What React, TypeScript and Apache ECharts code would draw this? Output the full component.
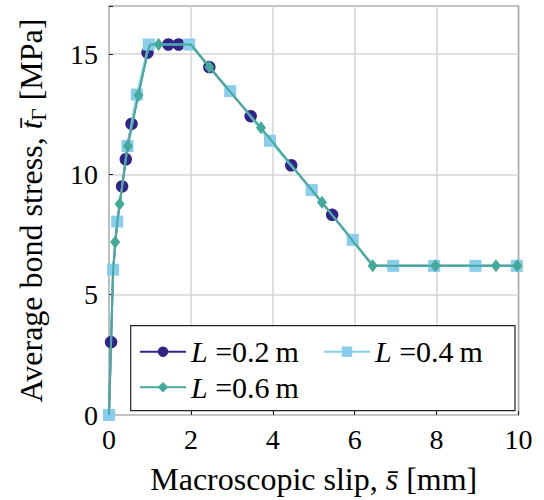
import React, { useEffect, useRef } from "react";
import * as echarts from "echarts";

// Underlying traction-slip curve (kink / shape points, no markers)
const curveX = [0, 0.05, 0.1, 0.2, 0.32, 0.45, 0.7, 0.94, 1.0, 2.0, 6.45, 10];
const curveY = [0, 3.0, 6.0, 8.0, 9.5, 11.2, 13.3, 15.06, 15.4, 15.4, 6.2, 6.2];

// Marker points, L = 0.2 m
const l02X = [0.05, 0.32, 0.41, 0.55, 0.94, 1.45, 1.7, 2.45, 3.46, 4.45, 5.45];
const l02Y = [3.03, 9.5, 10.63, 12.1, 15.06, 15.4, 15.4, 14.46, 12.42, 10.38, 8.32];

// Marker points, L = 0.4 m
const l04X = [0, 0.1, 0.2, 0.45, 0.68, 0.97, 1.96, 2.96, 3.93, 4.95, 5.95, 6.94, 7.94, 8.95, 9.96];
const l04Y = [0, 6.04, 8.04, 11.18, 13.32, 15.4, 15.4, 13.46, 11.4, 9.35, 7.28, 6.2, 6.2, 6.2, 6.2];

// Marker points, L = 0.6 m
const l06X = [0.15, 0.26, 0.46, 0.72, 1.21, 2.45, 3.71, 5.2, 6.44, 7.97, 9.45, 9.97];
const l06Y = [7.19, 8.77, 11.18, 13.29, 15.4, 14.46, 11.94, 8.84, 6.2, 6.2, 6.2, 6.2];

const seriesNames = ["L=0.2", "L=0.4", "L=0.6"];
const legendValues = ["0.2", "0.4", "0.6"];
const colors = ["#332288", "#88CCEE", "#44AA99"];
const symbols = ["circle", "rect", "diamond"];

const xTicks = [0, 10, 2];
const yTicks = [0, 17, 5];

const FONT = "'Liberation Serif', 'Times New Roman', serif";

function buildData(mx: number[], my: number[]) {
  const pts: any[] = mx.map((x, i) => ({ value: [x, my[i]] }));
  curveX.forEach((x, i) => {
    if (!mx.some((m) => Math.abs(m - x) < 0.031)) {
      pts.push({ value: [x, curveY[i]], symbol: "none" });
    }
  });
  pts.sort((a, b) => a.value[0] - b.value[0]);
  return pts;
}

const tickRich = { t: { fontFamily: FONT, fontSize: 28, color: "#000" } };

export default function App() {
  const ref = useRef<HTMLDivElement>(null);
  useEffect(() => {
    if (!ref.current) return;
    const chart = echarts.init(ref.current, undefined, { renderer: "svg" });
    const marks = [
      [l02X, l02Y],
      [l04X, l04Y],
      [l06X, l06Y],
    ];
    const sizes: any[] = [12.5, 12, [10, 13]];
    const series = seriesNames.map((name, i) => ({
      name,
      type: "line",
      data: buildData(marks[i][0], marks[i][1]),
      symbol: symbols[i],
      symbolSize: sizes[i],
      showSymbol: true,
      color: colors[i],
      itemStyle: { color: colors[i], borderWidth: 0 },
      lineStyle: { color: colors[i], width: 2 },
      z: 2 + i * 0.01,
    }));

    const legendPos = [
      { left: 139, top: 336.7 },
      { left: 323, top: 336.7 },
      { left: 139, top: 372.3 },
    ];
    const legends = seriesNames.map((name, i) => ({
      data: [name],
      left: legendPos[i].left,
      top: legendPos[i].top,
      padding: 0,
      itemWidth: 46,
      itemHeight: 13,
      itemGap: 0,
      formatter: () => `{i|L}{n| =${legendValues[i]}\u2009m}`,
      textStyle: {
        fontFamily: FONT,
        fontSize: 30,
        color: "#000",
        rich: {
          i: { fontFamily: FONT, fontStyle: "italic", fontSize: 30, color: "#000" },
          n: { fontFamily: FONT, fontSize: 30, color: "#000" },
        },
      },
      z: 5,
    }));

    chart.setOption({
      animation: false,
      backgroundColor: "#fff",
      grid: {
        left: 109,
        right: 25.5,
        top: 6,
        bottom: 84.5,
        show: true,
        borderColor: "#222",
        borderWidth: 1.2,
      },
      xAxis: {
        type: "value",
        min: xTicks[0],
        max: xTicks[1],
        interval: xTicks[2],
        axisLine: { show: false },
        axisTick: { show: true, inside: true, length: 4, lineStyle: { color: "#222" } },
        splitLine: { show: true, lineStyle: { color: "#d6d6d6", width: 1.5 } },
        axisLabel: {
          fontFamily: FONT,
          fontSize: 28,
          color: "#000",
          margin: 10,
          formatter: (v: number) => `{t|${v}}`,
          rich: tickRich,
        },
        name: "{n|Macroscopic slip, }{i|s\u0304}{n| [mm]}",
        nameLocation: "middle",
        nameGap: 48,
        nameTextStyle: {
          fontFamily: FONT,
          fontSize: 32,
          color: "#000",
          rich: {
            n: { fontFamily: FONT, fontSize: 32, color: "#000" },
            i: { fontFamily: FONT, fontSize: 32, fontStyle: "italic", color: "#000" },
          },
        },
      },
      yAxis: {
        type: "value",
        min: yTicks[0],
        max: yTicks[1],
        interval: yTicks[2],
        axisLine: { show: false },
        axisTick: { show: true, inside: true, length: 4, lineStyle: { color: "#222" } },
        splitLine: { show: true, lineStyle: { color: "#d6d6d6", width: 1.5 } },
        axisLabel: {
          fontFamily: FONT,
          fontSize: 28,
          color: "#000",
          margin: 11,
          formatter: (v: number) => (v % 5 === 0 ? `{t|${v}}` : ""),
          rich: tickRich,
        },
        name: "{n|Average bond stress, }{i|t\u0304}{s|\u0393}{n| [MPa]}",
        nameLocation: "middle",
        nameRotate: 90,
        nameGap: 60,
        nameTextStyle: {
          fontFamily: FONT,
          fontSize: 32,
          color: "#000",
          rich: {
            n: { fontFamily: FONT, fontSize: 32, color: "#000", lineHeight: 36 },
            i: { fontFamily: FONT, fontSize: 32, fontStyle: "italic", color: "#000", lineHeight: 36 },
            s: { fontFamily: FONT, fontSize: 21, color: "#000", lineHeight: 21, verticalAlign: "bottom" },
          },
        },
      },
      legend: legends,
      graphic: [
        {
          type: "rect",
          z: 3,
          shape: { x: 130.7, y: 325.7, width: 384.3, height: 85 },
          style: { fill: "#fff", stroke: "#222", lineWidth: 1.2 },
        },
      ],
      series,
    });
    return () => chart.dispose();
  }, []);
  return (
    <div
      ref={ref}
      style={{ position: "fixed", left: 0, top: 0, width: 544, height: 500 }}
    />
  );
}
